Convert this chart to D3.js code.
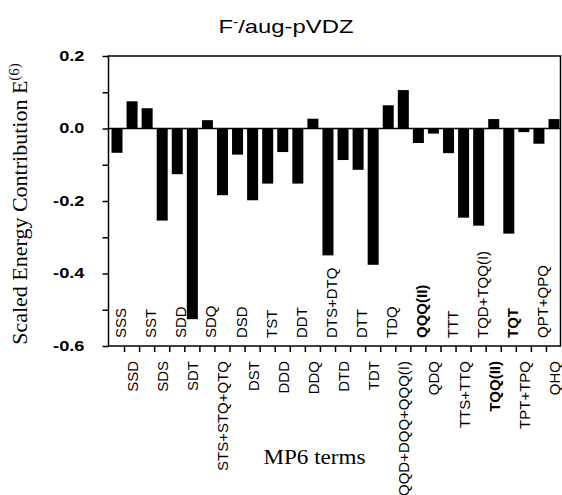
<!DOCTYPE html>
<html>
<head>
<meta charset="utf-8">
<script src="https://cdn.jsdelivr.net/npm/d3@7"></script>
<style>
body{margin:0;background:#fff}
svg{display:block}
</style>
</head>
<body>
<div id="chart"></div>
<script>
var terms = ["SSS","SSD","SST","SDS","SDD","SDT","SDQ","STS+STQ+QTQ","DSD","DST",
	"TST","DDD","DDT","DDQ","DTS+DTQ","DTD","DTT","TDT","TDQ","QQD+DQQ+QQQ(I)",
	"QQQ(II)","QDQ","TTT","TTS+TTQ","TQD+TQQ(I)","TQQ(II)","TQT","TPT+TPQ","QPT+QPQ","QHQ"];
var values = [-0.067, 0.075, 0.056, -0.254, -0.126, -0.526, 0.023, -0.184, -0.072, -0.198,
	-0.152, -0.065, -0.152, 0.027, -0.350, -0.087, -0.114, -0.376, 0.064, 0.106,
	-0.040, -0.014, -0.068, -0.246, -0.268, 0.026, -0.290, -0.010, -0.042, 0.026];
var boldTerms = ["QQQ(II)","TQQ(II)","TQT"];
var yTicks = [-0.6, -0.5, -0.4, -0.3, -0.2, -0.1, 0.0, 0.1, 0.2];
var yLabelTicks = [-0.6, -0.4, -0.2, 0.0, 0.2];

var w = 562, h = 495;
var plotLeft = 108.5, plotRight = 560.5, plotTop = 56, plotBottom = 346;

var svg = d3.select("#chart").append("svg").attr("width", w).attr("height", h);

var x = d3.scaleBand().domain(terms).range([111.5, 559.5]).paddingInner(0.27).paddingOuter(0);
var y = d3.scaleLinear().domain([-0.6, 0.2]).range([plotBottom, plotTop]);

// y axis, ticks outside the frame
var yAxis = svg.append("g")
	.attr("transform", "translate(" + plotLeft + ",0)")
	.call(d3.axisLeft(y).tickValues(yTicks).tickSize(6).tickFormat(function(d){
		return yLabelTicks.indexOf(d) >= 0 ? d.toFixed(1) : "";
	}));
yAxis.select(".domain").remove();
yAxis.selectAll(".tick line").attr("stroke", "#000").attr("stroke-width", 1.5);
yAxis.selectAll(".tick text")
	.attr("x", -18.5)
	.attr("transform", "scale(1.3,1)")
	.attr("font-family", "Arial, 'Liberation Sans', sans-serif")
	.attr("font-weight", "bold")
	.attr("font-size", 14)
	.attr("fill", "#000");

// bars
svg.append("g").selectAll("rect")
	.data(terms)
	.enter()
	.append("rect")
	.attr("x", function(d){ return x(d); })
	.attr("width", x.bandwidth())
	.attr("y", function(d, i){ return Math.min(y(values[i]), y(0)); })
	.attr("height", function(d, i){ return Math.abs(y(values[i]) - y(0)); })
	.attr("fill", "#000");

// zero line
svg.append("line")
	.attr("x1", plotLeft).attr("x2", plotRight)
	.attr("y1", y(0)).attr("y2", y(0))
	.attr("stroke", "#000").attr("stroke-width", 1.5);

// frame
svg.append("rect")
	.attr("x", plotLeft).attr("y", plotTop)
	.attr("width", plotRight - plotLeft).attr("height", plotBottom - plotTop)
	.attr("fill", "none").attr("stroke", "#000").attr("stroke-width", 1.5);

// x ticks between bars
svg.append("g").selectAll("line")
	.data(terms.slice(1))
	.enter()
	.append("line")
	.attr("x1", function(d){ return x(d) - x.step() * x.paddingInner() / 2; })
	.attr("x2", function(d){ return x(d) - x.step() * x.paddingInner() / 2; })
	.attr("y1", plotBottom).attr("y2", plotBottom + 6)
	.attr("stroke", "#000").attr("stroke-width", 1.5);

// term labels: even ones inside the plot, odd ones under the axis
svg.append("g").selectAll("text")
	.data(terms)
	.enter()
	.append("text")
	.attr("transform", function(d, i){
		var cx = x(d) + x.bandwidth() / 2;
		if(i % 2 == 0) return "translate(" + (cx + 9) + "," + 338 + ") rotate(-90)";
		return "translate(" + (cx + 6) + "," + 361 + ") rotate(-90)";
	})
	.attr("text-anchor", function(d, i){ return i % 2 == 0 ? "start" : "end"; })
	.attr("font-family", "Arial, 'Liberation Sans', sans-serif")
	.attr("font-size", 15)
	.attr("font-weight", function(d){ return boldTerms.indexOf(d) >= 0 ? "bold" : "normal"; })
	.attr("fill", "#000")
	.text(function(d){ return d; });

// title
var title = svg.append("text")
	.attr("x", 286).attr("y", 33)
	.attr("text-anchor", "middle")
	.attr("font-family", "Arial, 'Liberation Sans', sans-serif")
	.attr("font-size", 18.5)
	.attr("textLength", 135)
	.attr("lengthAdjust", "spacingAndGlyphs")
	.attr("fill", "#000");
title.append("tspan").text("F");
title.append("tspan").attr("font-size", 12).attr("dy", -7).text("-");
title.append("tspan").attr("dy", 7).text("/aug-pVDZ");

// y title
var ytitle = svg.append("text")
	.attr("transform", "translate(27,204) rotate(-90)")
	.attr("text-anchor", "middle")
	.attr("font-family", "'Times New Roman', 'Liberation Serif', serif")
	.attr("font-size", 22)
	.attr("fill", "#000");
ytitle.append("tspan").text("Scaled Energy Contribution E");
ytitle.append("tspan").attr("font-size", 15).attr("dy", -8).text("(6)");

// x title
svg.append("text")
	.attr("x", 314.5).attr("y", 464)
	.attr("text-anchor", "middle")
	.attr("font-family", "'Times New Roman', 'Liberation Serif', serif")
	.attr("font-size", 20)
	.attr("textLength", 102)
	.attr("lengthAdjust", "spacingAndGlyphs")
	.attr("fill", "#000")
	.text("MP6 terms");
</script>
</body>
</html>
